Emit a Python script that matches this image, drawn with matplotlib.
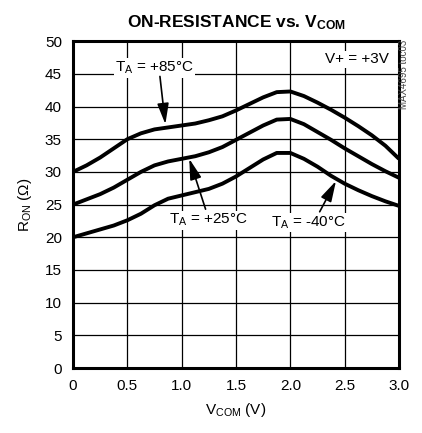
import numpy as np
import matplotlib
matplotlib.use("Agg")
import matplotlib.pyplot as plt

plt.rcParams['font.family'] = ['Liberation Sans Narrow', 'Liberation Sans', 'DejaVu Sans']
plt.rcParams['mathtext.fontset'] = 'custom'
plt.rcParams['mathtext.rm'] = 'Liberation Sans'
plt.rcParams['mathtext.it'] = 'Liberation Sans'
plt.rcParams['mathtext.bf'] = 'Liberation Sans:bold'

# V_COM (V)
vcom = [0, 0.125, 0.25, 0.375, 0.5, 0.625, 0.75, 0.875, 1.0, 1.125, 1.25, 1.375,
        1.5, 1.625, 1.75, 1.875, 2.0, 2.125, 2.25, 2.375, 2.5, 2.625, 2.75, 2.875, 3.0]

# R_ON (ohm)
ron_85 = [30.0, 31.0, 32.2, 33.6, 35.0, 35.9, 36.5, 36.8, 37.1, 37.4, 37.9, 38.5,
          39.4, 40.4, 41.4, 42.2, 42.3, 41.6, 40.6, 39.5, 38.3, 37.0, 35.6, 34.0, 32.0]
ron_25 = [25.0, 25.8, 26.6, 27.6, 28.8, 30.0, 31.0, 31.6, 32.0, 32.4, 33.0, 33.8,
          34.9, 36.0, 37.1, 38.0, 38.1, 37.3, 36.1, 34.9, 33.6, 32.4, 31.2, 30.1, 29.1]
ron_m40 = [20.0, 20.6, 21.2, 21.8, 22.6, 23.6, 24.9, 25.9, 26.4, 26.9, 27.4, 28.2,
           29.3, 30.6, 31.9, 32.9, 32.9, 32.0, 30.8, 29.4, 28.2, 27.2, 26.3, 25.5, 24.8]

xticks = [0, 0.5, 1.0, 1.5, 2.0, 2.5, 3.0]
xticklabels = ["0", "0.5", "1.0", "1.5", "2.0", "2.5", "3.0"]
yticks = list(range(0, 51, 5))

fig = plt.figure(figsize=(4.22, 4.33), dpi=100)
ax = fig.add_axes([0.173, 0.150, 0.7725, 0.755])

for r in (ron_85, ron_25, ron_m40):
    ax.plot(vcom, r, color="black", lw=2.8, solid_capstyle="butt", zorder=3)

ax.set_xlim(0, 3.0)
ax.set_ylim(0, 50)
ax.set_xticks(xticks)
ax.set_xticklabels(xticklabels)
ax.set_yticks(yticks)
ax.tick_params(length=0, labelsize=11, pad=8)
ax.grid(True, color="black", lw=0.9)
for s in ax.spines.values():
    s.set_linewidth(2.2)

ax.set_xlabel(r"$\mathrm{V_{COM}}$ (V)", fontsize=11, labelpad=6)
ax.set_ylabel(r"$\mathrm{R_{ON}}$ ($\Omega$)", fontsize=11, labelpad=8)
ax.set_title(r"ON-RESISTANCE vs. $\mathbf{V_{COM}}$", fontsize=12.5, fontweight="bold", pad=10)

box = dict(facecolor="white", edgecolor="none", pad=1)
arrow = dict(arrowstyle="-|>,head_length=0.9,head_width=0.25", color="black", lw=1.2,
             mutation_scale=14, shrinkA=0, shrinkB=0)

ax.text(0.75, 45.9, r"$\mathrm{T_A}$ = +85°C", fontsize=11, ha="center", va="center", bbox=box, zorder=4)
ax.annotate("", xy=(0.85, 37.3), xytext=(0.8, 44.6), arrowprops=arrow, zorder=4)

ax.text(1.25, 22.6, r"$\mathrm{T_A}$ = +25°C", fontsize=11, ha="center", va="center", bbox=box, zorder=4)
ax.annotate("", xy=(1.07, 32.0), xytext=(1.22, 24.3), arrowprops=arrow, zorder=4)

ax.text(2.17, 22.2, r"$\mathrm{T_A}$ = -40°C", fontsize=11, ha="center", va="center", bbox=box, zorder=4)
ax.annotate("", xy=(2.42, 28.6), xytext=(2.27, 23.9), arrowprops=arrow, zorder=4)

ax.text(2.61, 47.2, "V+ = +3V", fontsize=11, ha="center", va="center", bbox=box, zorder=4)

fig.text(0.958, 0.908, "MAX4695 toc03", fontsize=7, rotation=90, ha="center", va="top", color="#444444")

fig.savefig("out.png", dpi=100)
